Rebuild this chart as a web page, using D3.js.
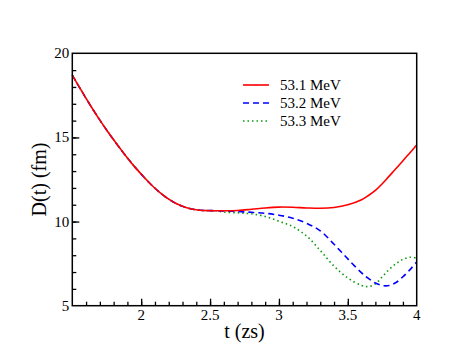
<!DOCTYPE html>
<html>
<head>
<meta charset="utf-8">
<script src="https://cdn.jsdelivr.net/npm/d3@7"></script>
<style>
  svg text { font-family: "Liberation Serif", Tinos, "Times New Roman", Times !important; }
</style>
</head>
<body style="margin:0">
<script>
// common part of the three runs (t in zs, D in fm)
const tCommon = [1.50, 1.55, 1.60, 1.65, 1.70, 1.75, 1.80, 1.85, 1.90, 1.95, 2.00, 2.05, 2.10, 2.15, 2.20, 2.25, 2.30, 2.35, 2.40, 2.45, 2.50, 2.55];
const dCommon = [18.7, 18.0, 17.32, 16.66, 16.03, 15.43, 14.86, 14.31, 13.78, 13.28, 12.82, 12.38, 11.98, 11.63, 11.33, 11.09, 10.91, 10.78, 10.70, 10.66, 10.65, 10.64];

const tTail = [2.60, 2.70, 2.80, 2.90, 3.00, 3.10, 3.20, 3.30, 3.40, 3.50, 3.60, 3.65, 3.70, 3.75, 3.80, 3.85, 3.90, 3.95, 4.00];
const d531 = [10.64, 10.66, 10.73, 10.81, 10.86, 10.85, 10.81, 10.79, 10.84, 11.0, 11.3, 11.55, 11.85, 12.25, 12.7, 13.15, 13.62, 14.08, 14.55];
const d532 = [10.63, 10.60, 10.55, 10.49, 10.38, 10.2, 9.9, 9.45, 8.65, 7.78, 6.95, 6.62, 6.35, 6.2, 6.2, 6.38, 6.72, 7.13, 7.6];
const d533 = [10.56, 10.52, 10.46, 10.3, 10.02, 9.7, 9.15, 8.28, 7.35, 6.65, 6.2, 6.14, 6.3, 6.72, 7.15, 7.5, 7.75, 7.88, 7.83];

const labels = ['53.1 MeV', '53.2 MeV', '53.3 MeV'];
const xTicks = [2, 2.5, 3, 3.5, 4];
const yTicks = [5, 10, 15, 20];

const colors = ['#ff0000', '#0000ff', '#0a9a0a'];
const dashes = [null, '6,4', '1.5,3'];
const font = 'Liberation Serif';

const width = 469, height = 362;
const margin = {top: 53.3, right: 52.3, bottom: 56.3, left: 72.3};
const innerWidth = width - margin.left - margin.right;
const innerHeight = height - margin.top - margin.bottom;

const svg = d3.select('body').append('svg').attr('width', width).attr('height', height)
  .attr('font-family', font);
const grp = svg.append('g').attr('transform', `translate(${margin.left},${margin.top})`);

const x = d3.scaleLinear().domain([1.5, 4]).range([0, innerWidth]);
const y = d3.scaleLinear().domain([5, 20]).range([innerHeight, 0]);

const series = [d531, d532, d533].map(tail =>
  tCommon.map((t, i) => [t, dCommon[i]]).concat(tTail.map((t, i) => [t, tail[i]])));

const line = d3.line().x(d => x(d[0])).y(d => y(d[1])).curve(d3.curveCatmullRom);

// draw green first so red ends up on top
[2, 1, 0].forEach(k => {
  grp.append('path')
    .attr('d', line(series[k]))
    .attr('fill', 'none')
    .attr('stroke', colors[k])
    .attr('stroke-width', 1.6)
    .attr('stroke-dasharray', dashes[k]);
});

// ticks pointing inward, no labels from the axis itself
const xMinor = grp.append('g').attr('transform', `translate(0,${innerHeight})`)
  .call(d3.axisTop(x).tickValues(d3.range(16, 40).map(v => v / 10)).tickSize(4).tickFormat(''));
const xMajor = grp.append('g').attr('transform', `translate(0,${innerHeight})`)
  .call(d3.axisTop(x).tickValues([2, 2.5, 3, 3.5]).tickSize(7).tickFormat(''));
const yMinor = grp.append('g')
  .call(d3.axisRight(y).tickValues(d3.range(6, 20)).tickSize(4).tickFormat(''));
const yMajor = grp.append('g')
  .call(d3.axisRight(y).tickValues([10, 15]).tickSize(7).tickFormat(''));
[xMinor, xMajor, yMinor, yMajor].forEach(a => {
  a.attr('font-family', null);
  a.select('.domain').remove();
  a.selectAll('line').attr('stroke', '#000').attr('stroke-width', 1.3);
  a.selectAll('text').remove();
});

// frame
grp.append('rect').attr('width', innerWidth).attr('height', innerHeight)
  .attr('fill', 'none').attr('stroke', '#000').attr('stroke-width', 1.5);

// tick labels
xTicks.forEach(v => {
  grp.append('text').attr('x', x(v)).attr('y', innerHeight + 14)
    .attr('text-anchor', 'middle').attr('font-size', 15)
    .attr('font-family', font).style('font-family', `"${font}"`).text(v);
});
yTicks.forEach(v => {
  grp.append('text').attr('x', -3).attr('y', y(v) + 5)
    .attr('text-anchor', 'end').attr('font-size', 15)
    .attr('font-family', font).style('font-family', `"${font}"`).text(v);
});

// axis titles
svg.append('text').attr('x', margin.left + innerWidth / 2).attr('y', 338)
  .attr('text-anchor', 'middle').attr('font-size', 20)
  .attr('font-family', font).style('font-family', `"${font}"`).text('t (zs)');
svg.append('text').attr('transform', `translate(46,${margin.top + innerHeight / 2}) rotate(-90)`)
  .attr('text-anchor', 'middle').attr('font-size', 20)
  .attr('font-family', font).style('font-family', `"${font}"`).text('D(t) (fm)');

// legend
const legY = [85, 103, 121];
labels.forEach((l, k) => {
  svg.append('line').attr('x1', 243).attr('x2', 269).attr('y1', legY[k]).attr('y2', legY[k])
    .attr('stroke', colors[k]).attr('stroke-width', 1.6).attr('stroke-dasharray', dashes[k]);
  svg.append('text').attr('x', 280).attr('y', legY[k] + 5).attr('font-size', 15)
    .attr('font-family', font).style('font-family', `"${font}"`).text(l);
});
</script>
</body>
</html>
